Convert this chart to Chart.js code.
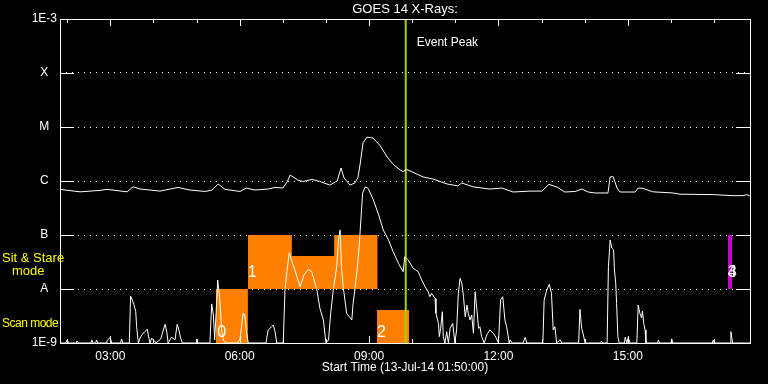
<!DOCTYPE html>
<html>
<head>
<meta charset="utf-8">
<script src="https://cdn.jsdelivr.net/npm/chart.js@4.4.1/dist/chart.umd.min.js"></script>
<style>
    html, body { margin: 0; padding: 0; background: #000; }
    #wrap { width: 768px; height: 384px; }
</style>
</head>
<body>
<div id="wrap"><canvas id="GoesChart" width="768" height="384"></canvas></div>
<script>
(function () {
    // hours UT on 13-Jul-2014, plot starts 01:50 and covers 16 h
    var startHour = 1 + 50 / 60;
    var endHour = startHour + 16;

    var yTickValues = [1e-9, 1e-8, 1e-7, 1e-6, 1e-5, 1e-4, 1e-3];
    var yTickLabels = ['1E-9', 'A', 'B', 'C', 'M', 'X', '1E-3'];
    var xTickHours = [3, 6, 9, 12, 15];
    var xTickLabels = ['03:00', '06:00', '09:00', '12:00', '15:00'];

    // 1-8 A channel (upper curve)
    var longTimes = [1.83, 2.30, 2.76, 2.92, 3.39, 3.53, 3.69, 4.15, 4.57, 4.85, 5.20, 5.36, 5.50, 5.66, 6.01, 6.15, 6.35, 6.66, 6.82, 7.00,
        7.10, 7.17, 7.35, 7.47, 7.68, 7.86, 8.09, 8.26, 8.35, 8.42, 8.56, 8.67, 8.74, 8.79, 8.86, 8.95, 9.09, 9.25, 9.42, 9.55,
        9.72, 9.79, 9.86, 10.00, 10.25, 10.48, 10.81, 11.06, 11.15, 11.41, 11.80, 12.08, 12.34, 12.73, 13.01, 13.17, 13.36, 13.54, 13.78, 13.94,
        14.08, 14.24, 14.54, 14.59, 14.66, 14.75, 14.82, 15.17, 15.24, 15.35, 15.58, 16.05, 16.21, 16.98, 17.44, 17.67, 17.76, 17.83];
    var longFlux = [7.0e-7, 6.3e-7, 6.7e-7, 7.0e-7, 6.3e-7, 7.8e-7, 7.1e-7, 6.5e-7, 7.6e-7, 6.8e-7, 6.4e-7, 6.8e-7, 8.8e-7, 7.0e-7, 6.4e-7, 7.4e-7, 6.8e-7, 7.1e-7, 7.6e-7, 7.4e-7,
        9.6e-7, 1.29e-6, 1.04e-6, 9.8e-7, 1.07e-6, 9.8e-7, 8.4e-7, 1.0e-6, 1.74e-6, 1.14e-6, 8.4e-7, 9.2e-7, 1.14e-6, 1.98e-6, 5.06e-6, 6.5e-6, 6.25e-6, 4.6e-6, 2.78e-6, 2.07e-6,
        1.6e-6, 1.49e-6, 1.65e-6, 1.47e-6, 1.19e-6, 1.09e-6, 8.8e-7, 8.1e-7, 9.2e-7, 7.8e-7, 7.1e-7, 7.4e-7, 6.25e-7, 6.5e-7, 6.5e-7, 8.7e-7, 7.7e-7, 6.25e-7, 6.4e-7, 7.1e-7,
        6.25e-7, 6.0e-7, 6.0e-7, 1.19e-6, 1.2e-6, 7.4e-7, 6.25e-7, 6.25e-7, 7.4e-7, 7.3e-7, 6.3e-7, 6.0e-7, 5.7e-7, 5.6e-7, 5.35e-7, 5.35e-7, 5.6e-7, 5.3e-7];

    // 0.5-4 A channel (lower curve)
    var shortTimes = [1.83, 1.97, 2.00, 2.03, 2.21, 2.23, 2.26, 2.55, 2.57, 2.60, 2.66, 2.68, 2.71, 2.90, 2.92, 3.00, 3.03, 3.24, 3.26, 3.29,
        3.44, 3.47, 3.51, 3.55, 3.59, 3.61, 3.65, 3.69, 3.73, 3.77, 3.80, 3.86, 3.88, 3.92, 3.96, 4.02, 4.06, 4.17, 4.23, 4.27,
        4.31, 4.34, 4.42, 4.50, 4.55, 4.59, 4.63, 4.67, 4.99, 5.00, 5.03, 5.31, 5.35, 5.39, 5.42, 5.47, 5.49, 5.54, 5.58, 5.62,
        5.68, 5.96, 6.01, 6.08, 6.12, 6.16, 6.20, 6.61, 6.66, 6.74, 6.78, 6.82, 6.86, 7.01, 7.05, 7.09, 7.15, 7.20, 7.28, 7.40,
        7.49, 7.59, 7.67, 7.79, 7.86, 7.94, 8.00, 8.06, 8.11, 8.17, 8.25, 8.29, 8.33, 8.36, 8.40, 8.48, 8.54, 8.60, 8.63, 8.67,
        8.73, 8.77, 8.81, 8.85, 8.91, 8.98, 9.10, 9.21, 9.33, 9.45, 9.56, 9.68, 9.79, 9.83, 9.91, 10.02, 10.14, 10.22, 10.30, 10.37,
        10.41, 10.45, 10.53, 10.55, 10.61, 10.63, 10.66, 10.70, 10.72, 10.76, 10.80, 10.84, 10.88, 10.94, 10.99, 11.03, 11.07, 11.11, 11.15, 11.19,
        11.23, 11.27, 11.30, 11.34, 11.38, 11.42, 11.46, 11.50, 11.54, 11.57, 11.61, 11.67, 11.73, 11.80, 11.88, 11.94, 12.00, 12.05, 12.10, 12.15,
        12.19, 12.25, 12.27, 12.32, 12.57, 12.62, 12.66, 13.03, 13.06, 13.12, 13.18, 13.23, 13.27, 13.31, 13.35, 13.43, 13.47, 13.86, 13.89, 13.93,
        13.97, 14.01, 14.37, 14.39, 14.42, 14.52, 14.55, 14.59, 14.63, 14.67, 14.69, 14.72, 14.74, 14.77, 14.80, 14.92, 14.94, 14.98, 15.01, 15.05,
        15.21, 15.24, 15.28, 15.32, 15.34, 15.37, 15.40, 15.42, 15.69, 15.71, 15.73, 16.00, 16.02, 16.04, 16.96, 16.98, 17.00, 17.37, 17.39, 17.43,
        17.83];
    var shortFlux = [1e-9, 1e-9, 1.14e-9, 1e-9, 1e-9, 1.09e-9, 1e-9, 1e-9, 1.14e-9, 1e-9, 1e-9, 1.14e-9, 1e-9, 1e-9, 1.09e-9, 1.28e-9, 1e-9, 1e-9, 1.19e-9, 1e-9,
        1e-9, 7.4e-9, 6.25e-9, 5.06e-9, 3.8e-9, 2.0e-9, 1e-9, 1.23e-9, 1.41e-9, 1.53e-9, 1.62e-9, 1.8e-9, 1.41e-9, 1e-9, 1.23e-9, 1.09e-9, 1e-9, 1.19e-9, 1.74e-9, 2.22e-9,
        1.6e-9, 1e-9, 1.28e-9, 1.14e-9, 2.22e-9, 1.74e-9, 1.23e-9, 1e-9, 1e-9, 1.19e-9, 1e-9, 1e-9, 5.3e-9, 3.3e-9, 1.14e-9, 6.7e-9, 1.47e-8, 6.25e-9, 1.74e-9, 1.14e-9,
        1e-9, 1e-9, 1.23e-9, 3.55e-9, 3.3e-9, 1.53e-9, 1e-9, 1e-9, 1.74e-9, 2.0e-9, 2.15e-9, 1.62e-9, 1e-9, 1e-9, 9.6e-9, 1.95e-8, 4.7e-8, 3.44e-8, 2.25e-8, 1.1e-8,
        1.82e-8, 2.3e-8, 2.09e-8, 9.6e-9, 4.4e-9, 2.67e-9, 1e-9, 1.14e-9, 3.55e-9, 9.6e-9, 2.59e-8, 8.1e-8, 1.24e-7, 2.59e-8, 1.1e-8, 3.55e-9, 3.07e-9, 2.67e-9, 5.4e-9, 9.6e-9,
        2.59e-8, 6.1e-8, 1.9e-7, 5.9e-7, 7.8e-7, 7.3e-7, 4.45e-7, 2.52e-7, 1.24e-7, 8.1e-8, 4.9e-8, 3.0e-8, 2.09e-8, 3.96e-8, 3.44e-8, 2.42e-8, 2.09e-8, 1.47e-8, 1.1e-8, 8.9e-9,
        7.2e-9, 8.3e-9, 6.7e-9, 3.55e-9, 2.3e-9, 1.31e-9, 1.87e-9, 3.8e-9, 1.31e-9, 1e-9, 1.62e-9, 1e-9, 1.87e-9, 2.3e-9, 1e-9, 1.74e-9, 8.3e-9, 1.58e-8, 1.28e-8, 7.2e-9,
        3.07e-9, 5.06e-9, 3.55e-9, 2.67e-9, 3.3e-9, 1.52e-9, 8.9e-9, 4.1e-9, 1.87e-9, 2.0e-9, 1.31e-9, 1e-9, 1.41e-9, 1.74e-9, 1.52e-9, 1.28e-9, 1e-9, 6.25e-9, 7.2e-9, 2.67e-9,
        2.0e-9, 1e-9, 1.14e-9, 1e-9, 1e-9, 1.28e-9, 1e-9, 1e-9, 6.25e-9, 9.6e-9, 1.22e-8, 8.3e-9, 1.74e-9, 2.0e-9, 1e-9, 1.15e-9, 1e-9, 1e-9, 4.2e-9, 1.87e-9,
        1.41e-9, 1e-9, 1e-9, 1.09e-9, 1e-9, 1e-9, 2.59e-8, 8.1e-8, 5.7e-8, 5.3e-8, 2.25e-8, 1.28e-8, 5.4e-9, 1.31e-9, 1e-9, 1e-9, 1.28e-9, 1e-9, 1.28e-9, 1e-9,
        1e-9, 5.06e-9, 3.55e-9, 2.9e-9, 3.9e-9, 2.3e-9, 1.74e-9, 1e-9, 1e-9, 1.14e-9, 1e-9, 1e-9, 1.19e-9, 1e-9, 1e-9, 1.14e-9, 1e-9, 1e-9, 1.62e-9, 1e-9,
        1e-9];

    var eventPeakHour = 9.85;

    // observing blocks, one stepped block per mode
    var modeTimes = [[5.45, 6.19], [6.19, 7.21, 8.19, 9.20], [9.18, 9.93], [17.32, 17.42]];
    var modeTops = [[1e-8, 1e-8], [1e-7, 4.1e-8, 1e-7, 1e-7], [4.1e-9, 4.1e-9], [1e-7, 1e-7]];
    var modeBases = [1e-9, 1e-8, 1e-9, 1e-8];
    var modeLabelText = ['0', '1', '2', '3', '4'];
    var modeLabelHours = [5.58, 6.29, 9.29, 17.42, 17.42];
    var modeLabelFlux = [1.58e-9, 2.04e-8, 1.56e-9, 2.04e-8, 2.04e-8];

    var modeColors = ['#ff8000', '#ff8000', '#ff8000', '#cc00cc'];

    Chart.defaults.font.family = '"Liberation Sans", Arial, sans-serif';
    Chart.defaults.font.size = 12;
    Chart.defaults.color = '#fff';

    function points(xs, ys) {
        return xs.map(function (x, i) { return { x: x, y: ys[i] }; });
    }

    var datasets = [
        { data: points(shortTimes, shortFlux), borderColor: '#fff', borderWidth: 1, pointRadius: 0, order: 0 },
        { data: points(longTimes, longFlux), borderColor: '#fff', borderWidth: 1, pointRadius: 0, order: 0 },
        { data: [{ x: eventPeakHour, y: 1e-9 }, { x: eventPeakHour, y: 1e-3 }], borderColor: '#a0d400', borderWidth: 2, pointRadius: 0, order: 1 }
    ];
    modeTimes.forEach(function (t, i) {
        datasets.push({
            data: points(t, modeTops[i]),
            stepped: 'before',
            borderWidth: 0,
            borderColor: 'rgba(0,0,0,0)',
            backgroundColor: modeColors[i],
            fill: { value: modeBases[i] },
            pointRadius: 0,
            order: 2
        });
    });

    var framePlugin = {
        id: 'goesFrame',
        afterDraw: function (chart) {
            var ctx = chart.ctx, a = chart.chartArea;
            var xs = chart.scales.x, ys = chart.scales.y;
            ctx.save();

            // mode numbers
            ctx.fillStyle = '#fff';
            ctx.font = '16px "Liberation Sans", Arial, sans-serif';
            ctx.textAlign = 'center';
            ctx.textBaseline = 'middle';
            modeLabelText.forEach(function (t, i) {
                ctx.fillText(t, xs.getPixelForValue(modeLabelHours[i]), ys.getPixelForValue(modeLabelFlux[i]));
            });

            // frame
            ctx.strokeStyle = '#fff';
            ctx.lineWidth = 1;
            ctx.strokeRect(a.left + 0.5, a.top + 0.5, a.right - a.left, a.bottom - a.top);

            ctx.beginPath();
            yTickValues.forEach(function (v) {
                var py = Math.round(ys.getPixelForValue(v)) + 0.5;
                ctx.moveTo(a.left, py); ctx.lineTo(a.left + 14, py);
                ctx.moveTo(a.right - 14, py); ctx.lineTo(a.right, py);
            });
            for (var h = Math.ceil(startHour); h < endHour; h++) {
                var px = Math.round(xs.getPixelForValue(h)) + 0.5;
                var len = h % 3 === 0 ? 7 : 4;
                ctx.moveTo(px, a.top); ctx.lineTo(px, a.top + len);
                ctx.moveTo(px, a.bottom); ctx.lineTo(px, a.bottom - len);
            }
            ctx.stroke();

            // event marker text
            ctx.font = '12px "Liberation Sans", Arial, sans-serif';
            ctx.textAlign = 'left';
            ctx.fillText('Event Peak', xs.getPixelForValue(eventPeakHour) + 11, a.top + 24);

            // mode names on the left
            var yA = ys.getPixelForValue(1e-8), yB = ys.getPixelForValue(1e-7);
            var mid = (yA + yB) / 2;
            ctx.fillStyle = '#ffff00';
            ctx.font = '13px "Liberation Sans", Arial, sans-serif';
            ctx.fillText('Sit & Stare', 2, mid - 3.5);
            ctx.fillText('mode', 12, mid + 9);
            ctx.font = '12px "Liberation Sans", Arial, sans-serif';
            ctx.letterSpacing = '-0.5px';
            ctx.fillText('Scan mode', 2, ys.getPixelForValue(2.3e-9));
            ctx.restore();
        }
    };

    new Chart(document.getElementById('GoesChart'), {
        type: 'line',
        data: { datasets: datasets },
        options: {
            responsive: false,
            animation: false,
            layout: { padding: { left: 0, right: 18, top: 0, bottom: 0 } },
            plugins: {
                legend: { display: false },
                tooltip: { enabled: false },
                title: {
                    display: true,
                    text: 'GOES 14 X-Rays:',
                    color: '#fff',
                    fullSize: false,
                    font: { size: 13, weight: 'normal' },
                    padding: { top: 1.5, bottom: 1.9 }
                }
            },
            scales: {
                x: {
                    type: 'linear',
                    min: startHour,
                    max: endHour,
                    afterBuildTicks: function (s) { s.ticks = xTickHours.map(function (h) { return { value: h }; }); },
                    ticks: { callback: function (v, i) { return xTickLabels[i]; }, padding: 6, maxRotation: 0, autoSkip: false },
                    grid: { display: false, drawTicks: false },
                    border: { display: false },
                    title: { display: true, text: 'Start Time (13-Jul-14 01:50:00)', padding: { top: 0, bottom: 9 } },
                    afterFit: function (s) { s.height = 41; }
                },
                y: {
                    type: 'logarithmic',
                    min: 1e-9,
                    max: 1e-3,
                    z: 1,
                    afterBuildTicks: function (s) { s.ticks = yTickValues.map(function (v) { return { value: v }; }); },
                    ticks: { callback: function (v, i) { return yTickLabels[i]; }, padding: 3, autoSkip: false, crossAlign: 'center' },
                    grid: { color: '#fff', lineWidth: 1, drawTicks: false },
                    border: { display: false, dash: [1, 5] },
                    afterFit: function (s) { s.width = 60; }
                }
            }
        },
        plugins: [framePlugin]
    });
})();
</script>
</body>
</html>
